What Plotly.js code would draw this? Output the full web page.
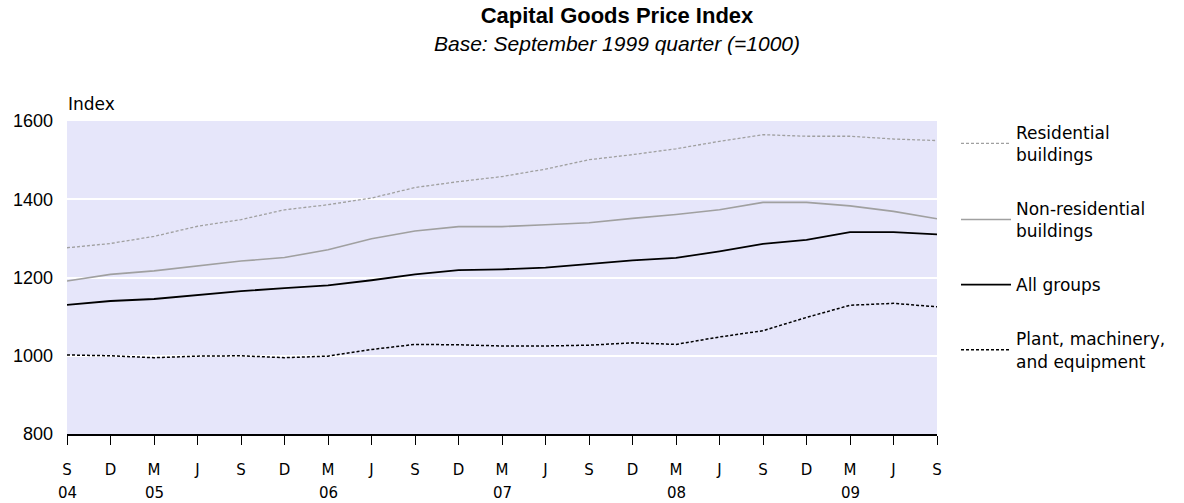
<!DOCTYPE html>
<html>
<head>
<meta charset="utf-8">
<script src="https://cdn.plot.ly/plotly-3.0.1.min.js"></script>
<style>
  html, body { margin: 0; padding: 0; background: #ffffff; }
  #chart { width: 1184px; height: 503px; }
</style>
</head>
<body>
<div id="chart"></div>
<script>
// Quarters (September 2004 to September 2009)
const quarters = ['Sep 2004','Dec 2004','Mar 2005','Jun 2005','Sep 2005','Dec 2005','Mar 2006','Jun 2006','Sep 2006','Dec 2006','Mar 2007','Jun 2007','Sep 2007','Dec 2007','Mar 2008','Jun 2008','Sep 2008','Dec 2008','Mar 2009','Jun 2009','Sep 2009'];
const tickLetters = ['S','D','M','J','S','D','M','J','S','D','M','J','S','D','M','J','S','D','M','J','S'];
const yearLabels = ['04','05','06','07','08','09'];
const yearAt = ['Sep 2004','Mar 2005','Mar 2006','Mar 2007','Mar 2008','Mar 2009'];
const yTicks = [800, 1000, 1200, 1400, 1600];

// Series values (index, base Sep 1999 quarter = 1000)
const residential    = [1276,1287,1305,1331,1348,1373,1386,1403,1430,1445,1458,1477,1501,1514,1529,1548,1565,1561,1561,1554,1550];
const nonResidential = [1191,1208,1217,1229,1242,1251,1271,1299,1319,1330,1330,1335,1340,1351,1361,1373,1392,1392,1383,1369,1350];
const allGroups      = [1130,1140,1145,1155,1165,1173,1180,1193,1208,1219,1221,1225,1234,1244,1250,1267,1286,1296,1316,1316,1310];
const plant          = [1002,1000,995,999,1000,995,999,1016,1029,1028,1025,1025,1027,1033,1029,1048,1064,1098,1129,1134,1125];

const seriesNames = ['Residential<br>buildings','Non-residential<br>buildings','All groups','Plant, machinery,<br>and equipment'];

const gray = '#a0a0a0';
const traces = [
  {x: quarters, y: residential, name: seriesNames[0], type: 'scatter', mode: 'lines',
   line: {color: gray, width: 1.3, dash: '3px,2px'}, legendgroup: 'a'},
  {x: quarters, y: nonResidential, name: seriesNames[1], type: 'scatter', mode: 'lines',
   line: {color: gray, width: 1.6}, legendgroup: 'b'},
  {x: quarters, y: allGroups, name: seriesNames[2], type: 'scatter', mode: 'lines',
   line: {color: '#000000', width: 1.8}, legendgroup: 'c'},
  {x: quarters, y: plant, name: seriesNames[3], type: 'scatter', mode: 'lines',
   line: {color: '#000000', width: 1.5, dash: '3px,2px'}, legendgroup: 'd'}
];

const annotations = yearLabels.map((t, i) => ({
  x: yearAt[i], xref: 'x', y: 0, yref: 'paper', yanchor: 'middle', xanchor: 'center',
  yshift: -59, text: t, showarrow: false,
  font: {family: 'DejaVu Sans', size: 15, color: '#000'}
}));
annotations.push({
  x: 0, xref: 'paper', y: 1, yref: 'paper', xanchor: 'left', yanchor: 'bottom',
  xshift: -1, yshift: 5, text: 'Index', showarrow: false,
  font: {family: 'DejaVu Sans', size: 17, color: '#000'}
});
// subtitle
annotations.push({
  x: (617 - 67) / 870, xref: 'paper', y: 1, yref: 'paper', xanchor: 'center', yanchor: 'middle',
  yshift: 121 - 43, text: '<i>Base: September 1999 quarter (=1000)</i>', showarrow: false,
  font: {family: 'Liberation Sans, Arial', size: 21, color: '#000'}
});

const layout = {
  width: 1184, height: 503,
  margin: {l: 67, r: 247, t: 121, b: 69},
  paper_bgcolor: '#ffffff',
  plot_bgcolor: '#e6e6fa',
  title: {
    text: '<b>Capital Goods Price Index</b>',
    x: 617/1184, xanchor: 'center', y: 1 - 15/503, yanchor: 'middle',
    font: {family: 'Liberation Sans, Arial', size: 22, color: '#000'}
  },
  xaxis: {
    type: 'category', range: [0, quarters.length - 1],
    tickmode: 'array', tickvals: quarters, ticktext: tickLetters,
    showgrid: false, zeroline: false,
    showline: true, linecolor: '#000', linewidth: 2,
    ticks: 'outside', ticklen: 9, tickwidth: 1, tickcolor: '#000',
    ticklabelstandoff: 12,
    tickfont: {family: 'DejaVu Sans', size: 15, color: '#000'},
    fixedrange: true
  },
  yaxis: {
    range: [800, 1600], tickmode: 'array', tickvals: yTicks,
    showgrid: true, gridcolor: '#ffffff', gridwidth: 2,
    zeroline: false, showline: false, ticks: '',
    ticklabelstandoff: 13,
    tickfont: {family: 'Liberation Sans, Arial', size: 18, color: '#000'},
    fixedrange: true
  },
  showlegend: true,
  legend: {
    x: 1 + 19/870, xanchor: 'left', y: 1.02, yanchor: 'top',
    font: {family: 'DejaVu Sans', size: 17, color: '#000'},
    tracegroupgap: 29, bgcolor: 'rgba(0,0,0,0)', itemwidth: 50,
    maxheight: 450
  },
  annotations: annotations
};

Plotly.newPlot('chart', traces, layout, {displayModeBar: false, staticPlot: true});
</script>
</body>
</html>
